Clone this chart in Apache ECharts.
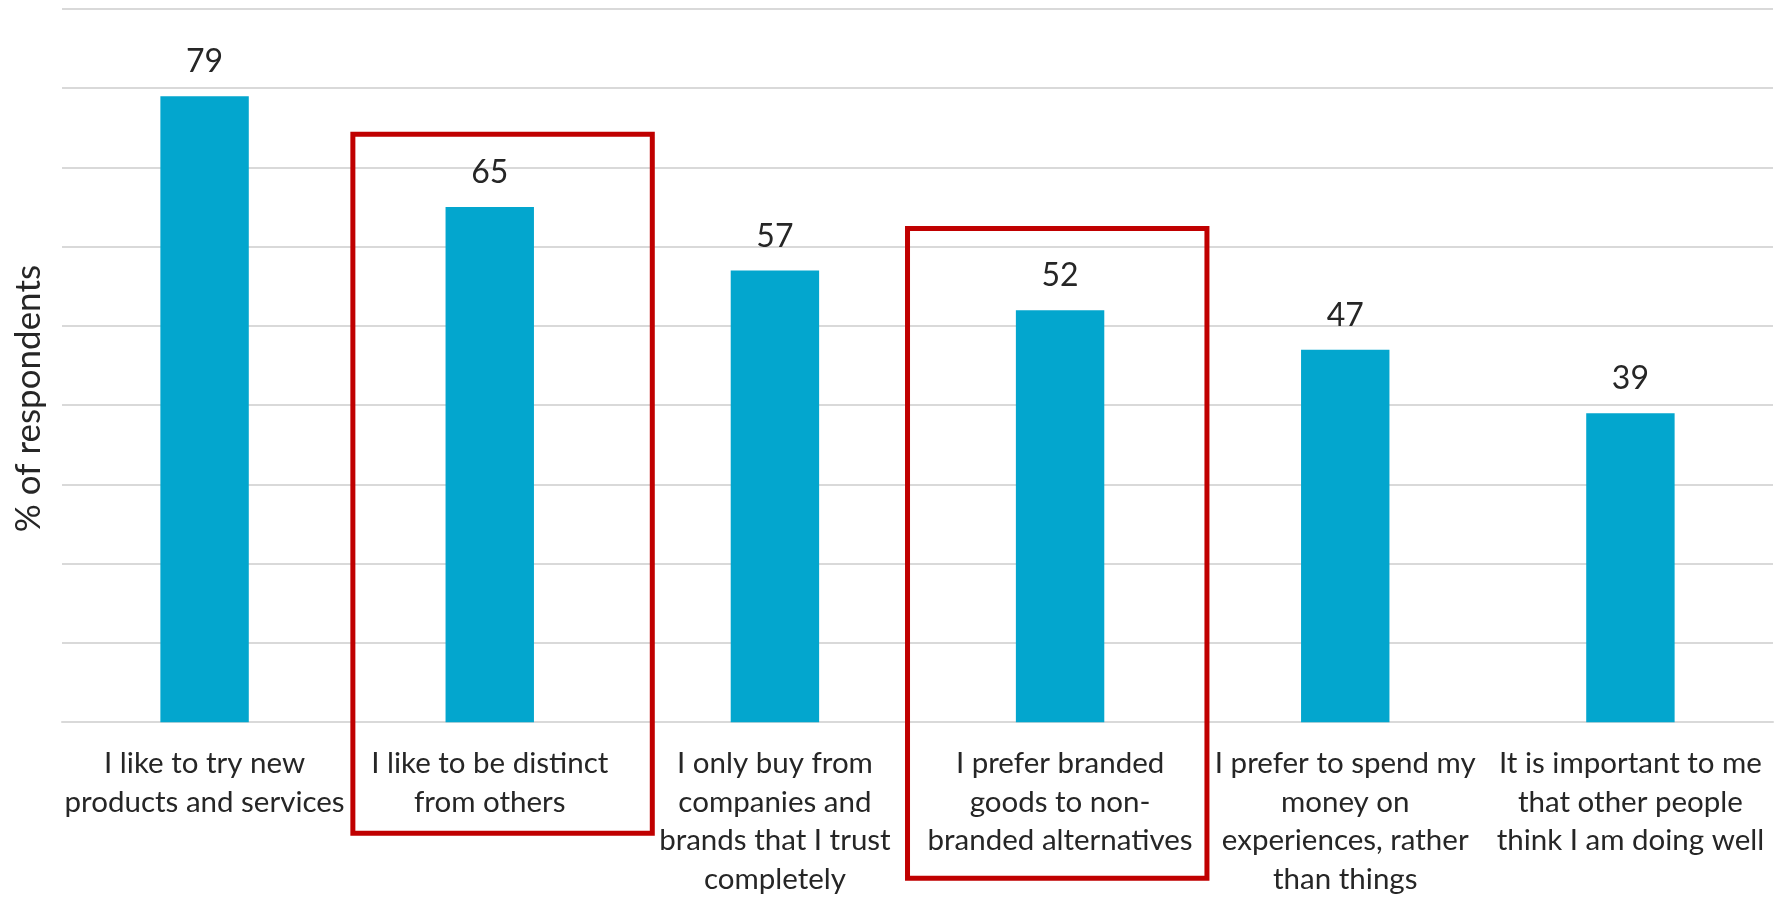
<!DOCTYPE html>
<html>
<head>
<meta charset="utf-8">
<title>Consumer attitudes</title>
<script src="https://cdn.jsdelivr.net/npm/echarts@6/dist/echarts.min.js"></script>
<style>
  html, body { margin: 0; padding: 0; background: #ffffff; }
  #chart { width: 1784px; height: 899px; }
</style>
</head>
<body>
<div id="chart"></div>
<script>
// Survey statements (pre-wrapped the way they are set under the bars)
const categories = [
  'I like to try new\nproducts and services',
  'I like to be distinct\nfrom others',
  'I only buy from\ncompanies and\nbrands that I trust\ncompletely',
  'I prefer branded\ngoods to non-\nbranded alternatives',
  'I prefer to spend my\nmoney on\nexperiences, rather\nthan things',
  'It is important to me\nthat other people\nthink I am doing well'
];

// Share of respondents agreeing, %
const values = [79, 65, 57, 52, 47, 39];

// Value-axis ticks (gridlines only, no labels drawn)
const yTicks = [0, 10, 20, 30, 40, 50, 60, 70, 80, 90];

// Statements picked out with a red frame
const highlighted = [1, 3];

const FONT = 'Lato, "Open Sans", sans-serif';
const TEXT = '#262626';
const BAR = '#03A6CE';
const GRID = '#D9D9D9';
const RED = '#C00000';

const LABEL_SIZE = 29.5;
const LABEL_LINE = 38.7;
const LABEL_MARGIN = 22;

const chart = echarts.init(document.getElementById('chart'), null, { renderer: 'canvas' });

chart.setOption({
  backgroundColor: '#ffffff',
  animation: false,
  grid: { left: 62, right: 11, top: 9, bottom: 172.5, containLabel: false },
  xAxis: {
    type: 'category',
    data: categories,
    axisLine: { show: true, lineStyle: { color: GRID, width: 2 } },
    axisTick: { show: false },
    axisLabel: {
      interval: 0,
      margin: LABEL_MARGIN,
      color: TEXT,
      fontFamily: FONT,
      fontSize: LABEL_SIZE,
      lineHeight: LABEL_LINE,
      align: 'center'
    }
  },
  yAxis: {
    type: 'value',
    min: yTicks[0],
    max: yTicks[yTicks.length - 1],
    interval: yTicks[1] - yTicks[0],
    name: '% of respondents',
    nameLocation: 'middle',
    nameGap: 16,
    nameTextStyle: {
      color: TEXT,
      fontFamily: FONT,
      fontSize: 35,
      // sits a little below the middle of the value axis
      padding: [0, 66, 0, 0]
    },
    axisLine: { show: false },
    axisTick: { show: false },
    axisLabel: { show: false },
    splitLine: { show: true, lineStyle: { color: GRID, width: 2 } }
  },
  series: [{
    type: 'bar',
    data: values,
    barWidth: '31%',
    itemStyle: { color: BAR },
    label: {
      show: true,
      position: 'top',
      distance: 18,
      color: TEXT,
      fontFamily: FONT,
      fontSize: 32
    }
  }]
});

// Red frames around the highlighted statements: they span the bar's band
// and run from above the value label down past the wrapped axis label.
function drawFrames() {
  const x0 = chart.convertToPixel({ xAxisIndex: 0 }, 0);
  const x1 = chart.convertToPixel({ xAxisIndex: 0 }, 1);
  const band = x1 - x0;
  const axisY = chart.convertToPixel({ yAxisIndex: 0 }, 0);
  const unit = axisY - chart.convertToPixel({ yAxisIndex: 0 }, 1);

  // per-frame horizontal extent (in bands), headroom above the value label
  // and padding below the last label line
  const frameStyle = {
    1: { from: -0.48, to: 0.57, above: 9.2, below: 11.6 },
    3: { from: -0.535, to: 0.515, above: 10.3, below: 17.9 }
  };

  const elements = highlighted.map(function (idx) {
    const s = frameStyle[idx];
    const cx = chart.convertToPixel({ xAxisIndex: 0 }, idx);
    const left = cx + s.from * band;
    const right = cx + s.to * band;
    const top = axisY - (values[idx] + s.above) * unit;
    const lines = categories[idx].split('\n').length;
    const bottom = axisY + LABEL_MARGIN + lines * LABEL_LINE + s.below;
    return {
      type: 'rect',
      shape: { x: left, y: top, width: right - left, height: bottom - top },
      style: { fill: 'none', stroke: RED, lineWidth: 5 },
      z: 10
    };
  });
  chart.setOption({ graphic: elements });
}

drawFrames();
</script>
</body>
</html>
